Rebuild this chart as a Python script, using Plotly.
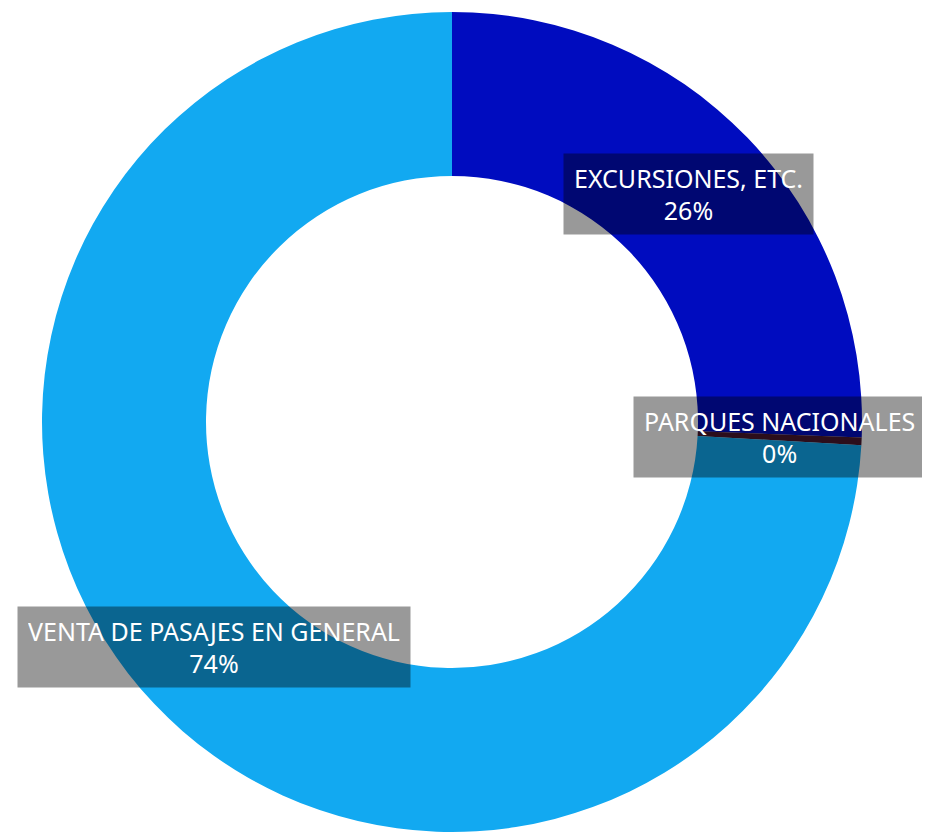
import math
import plotly.graph_objects as go

labels = ["EXCURSIONES, ETC.", "PARQUES NACIONALES", "VENTA DE PASAJES EN GENERAL"]
values = [25.6, 0.3, 74.1]
colors = ["#000cbf", "#4a1830", "#12a9f1"]

W, H = 930, 832
OFF = 8  # page body margin
HOLE = 0.6
dom_x = [(42 - OFF) / W, (862 - OFF) / W]
dom_y = [(H - (832 - OFF)) / H, (H - (12 - OFF)) / H]

fig = go.Figure(go.Pie(
    labels=labels, values=values, hole=HOLE, sort=False, direction="clockwise", rotation=0,
    marker=dict(colors=colors, line=dict(width=0)), textinfo="none", hoverinfo="label+percent",
    domain=dict(x=dom_x, y=dom_y), showlegend=False,
))

# label positions: mid-angle of each slice on the middle of the ring
total = sum(values)
cx = (dom_x[0] + dom_x[1]) / 2 * W
cy = H - (dom_y[0] + dom_y[1]) / 2 * H
R = min((dom_x[1] - dom_x[0]) * W, (dom_y[1] - dom_y[0]) * H) / 2
rm = R * (1 + HOLE) / 2
cum = 0.0
for lab, v in zip(labels, values):
    theta = 2 * math.pi * (cum + v / 2) / total
    cum += v
    px = cx + rm * math.sin(theta)
    py = cy - rm * math.cos(theta)
    pct = round(v / total * 100)
    fig.add_annotation(
        x=px / W, y=1 - py / H, xref="paper", yref="paper",
        text=f"{lab}<br>{pct}%", showarrow=False,
        font=dict(family="Noto Sans", size=25, color="white"),
        bgcolor="rgba(0,0,0,0.4)", borderpad=10, height=60,
        xanchor="center", yanchor="middle", align="center",
    )

fig.update_layout(
    width=W, height=H, margin=dict(l=0, r=0, t=0, b=0),
    paper_bgcolor="white", plot_bgcolor="white",
)
fig.write_html("out.html")
